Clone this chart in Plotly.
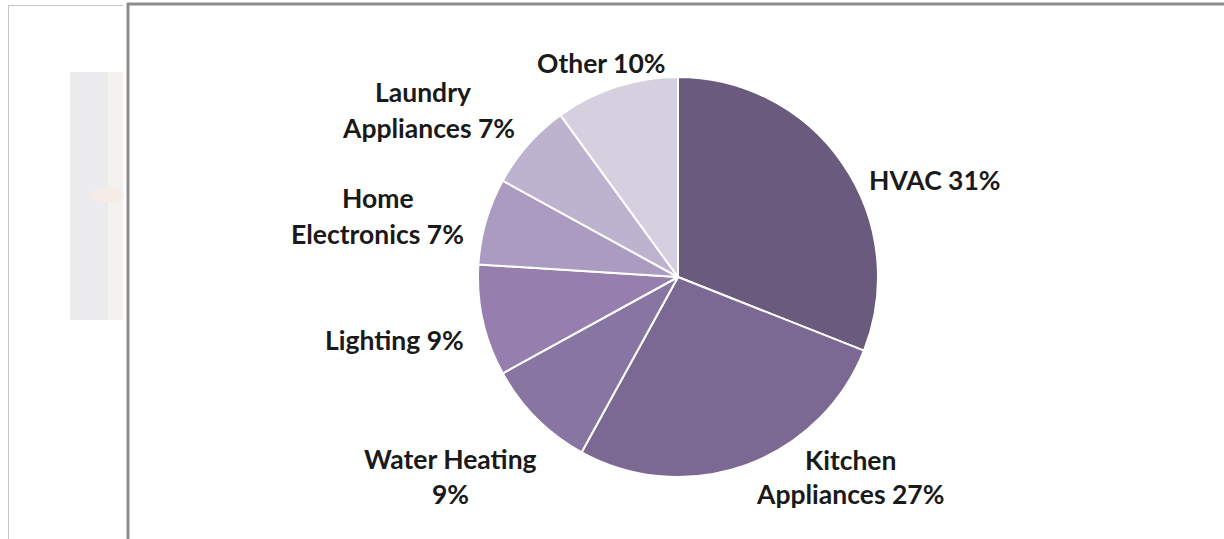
import plotly.graph_objects as go

categories = ["HVAC", "Kitchen Appliances", "Water Heating", "Lighting",
              "Home Electronics", "Laundry Appliances", "Other"]
shares = [31, 27, 9, 9, 7, 7, 10]
label_lines = [["HVAC 31%"], ["Kitchen", "Appliances 27%"], ["Water Heating", "9%"],
               ["Lighting 9%"], ["Home", "Electronics 7%"], ["Laundry", "Appliances 7%"],
               ["Other 10%"]]

colors = ["#695a7e", "#7b6893", "#8875a1", "#967fae", "#ab9bc1", "#beb3ce", "#d5cfe0"]

W, H = 1224, 539
# label line centres in pixels (x, y)
label_pos = [[(935, 180)],
             [(850, 460), (850, 494)],
             [(450, 459), (450, 494)],
             [(394, 340)],
             [(378, 198), (377, 234)],
             [(423, 92), (429, 128)],
             [(601, 63)]]

def px(x):
    return x / W

def py(y):
    return 1 - y / H

cx, cy, r = 678, 277, 200

fig = go.Figure(go.Pie(
    labels=categories,
    values=shares,
    sort=False,
    direction="clockwise",
    rotation=0,
    textinfo="none",
    hoverinfo="label+percent",
    marker=dict(colors=colors, line=dict(color="white", width=2)),
    domain=dict(x=[px(cx - r), px(cx + r)], y=[py(cy + r), py(cy - r)]),
    showlegend=False,
))

annotations = []
for lines, poss in zip(label_lines, label_pos):
    for text, (x, y) in zip(lines, poss):
        annotations.append(dict(
            x=px(x), y=py(y), xref="paper", yref="paper",
            text="<b>" + text + "</b>", showarrow=False,
            xanchor="center", yanchor="middle",
            font=dict(family="Lato", size=26.5, color="#1a1a1a"),
        ))

shapes = [
    # faded picture at left
    dict(type="rect", xref="paper", yref="paper",
         x0=px(70), x1=px(123), y0=py(320), y1=py(72),
         fillcolor="#ececee", line=dict(width=0), layer="below"),
    dict(type="rect", xref="paper", yref="paper",
         x0=px(108), x1=px(123), y0=py(320), y1=py(72),
         fillcolor="#f3f2ee", line=dict(width=0), layer="below"),
    dict(type="circle", xref="paper", yref="paper",
         x0=px(92), x1=px(124), y0=py(202), y1=py(188),
         fillcolor="#f6ebe6", line=dict(width=0), layer="below", opacity=0.9),
    # left thin frame
    dict(type="line", xref="paper", yref="paper",
         x0=px(8.5), x1=px(8.5), y0=py(5), y1=0,
         line=dict(color="#c4c4c4", width=1)),
    dict(type="line", xref="paper", yref="paper",
         x0=px(8), x1=px(123), y0=py(5.5), y1=py(5.5),
         line=dict(color="#c4c4c4", width=1)),
    # main frame
    dict(type="line", xref="paper", yref="paper",
         x0=px(128), x1=px(128), y0=py(3), y1=0,
         line=dict(color="#8c8c8c", width=3)),
    dict(type="line", xref="paper", yref="paper",
         x0=px(127), x1=1, y0=py(4), y1=py(4),
         line=dict(color="#8c8c8c", width=3)),
]

fig.update_layout(
    width=W, height=H,
    margin=dict(l=0, r=0, t=0, b=0),
    paper_bgcolor="white", plot_bgcolor="white",
    annotations=annotations,
    shapes=shapes,
)

fig.write_html("out.html")
